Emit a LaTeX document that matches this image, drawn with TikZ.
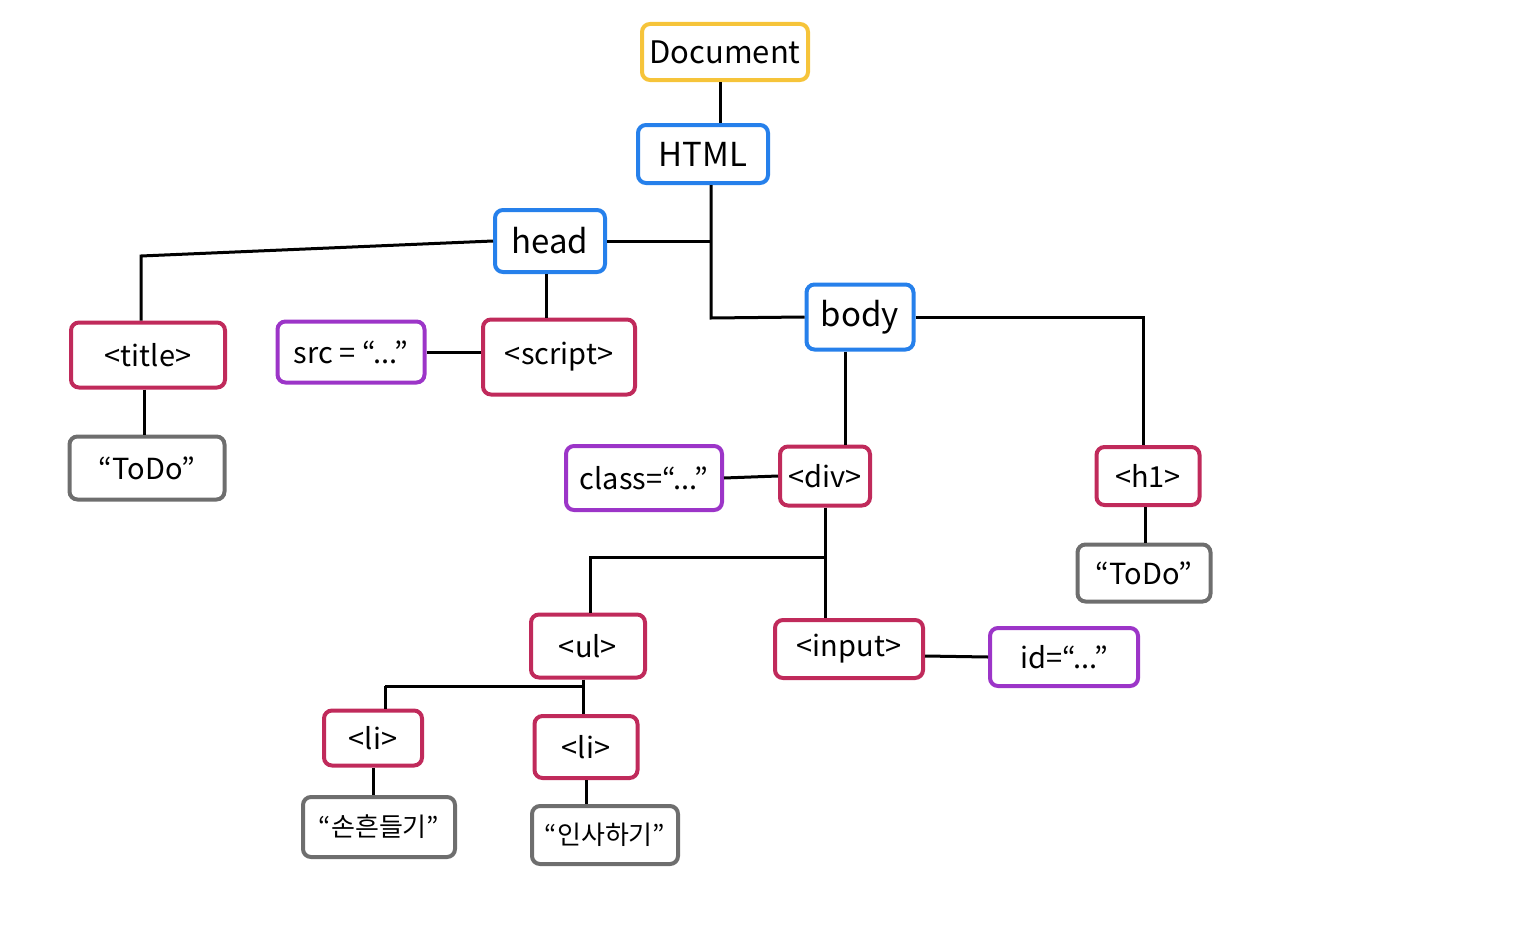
\documentclass[tikz,border=0pt]{standalone}
\usepackage{fontspec}
\setmainfont{Noto Sans CJK KR}
\usetikzlibrary{calc}
\definecolor{docyellow}{HTML}{F6C43A}
\definecolor{elblue}{HTML}{2680EB}
\definecolor{tagred}{HTML}{C02A5B}
\definecolor{attrpurple}{HTML}{9C35C8}
\definecolor{textgray}{HTML}{6E6E6E}
\tikzset{
  box/.style={draw, line width=4pt, rounded corners=8pt, inner sep=0pt,
    font=\fontsize{29}{33}\selectfont},
  boxsize/.style 2 args={minimum width=#1pt, minimum height=#2pt},
  docbox/.style={box, docyellow, text=black, font=\fontsize{31}{35}\selectfont},
  elbox/.style={box, elblue, text=black, font=\fontsize{33}{37}\selectfont},
  tagbox/.style={box, tagred, text=black},
  attrbox/.style={box, attrpurple, text=black},
  txtbox/.style={box, textgray, text=black},
  link/.style={line width=3pt, black}
}
\begin{document}
\begin{tikzpicture}[x=1pt, y=-1pt]

\useasboundingbox (0,0) rectangle (1536,934);

% document and root
\node[docbox, boxsize={166}{56}] (document) at (725,52) {Document};
\node[elbox, boxsize={130}{58}] (html) at (703,154) {HTML};
\node[elbox, boxsize={110}{62}] (head) at (550,241) {head};
\node[elbox, boxsize={107}{65}] (body) at (860,317) {body};

% head side
\node[tagbox, boxsize={154}{65}] (title) at (148,355) {<title>};
\node[txtbox, boxsize={155}{63}] (titletext) at (147,468) {“ToDo”};
\node[attrbox, boxsize={147}{61}] (src) at (351,352) {src = “...”};
\node[tagbox, boxsize={152}{75}] (script) at (559,357) {<script>};

% body side
\node[attrbox, boxsize={156}{64}] (class) at (644,478) {class=“...”};
\node[tagbox, boxsize={90}{59}] (div) at (825,476) {<div>};
\node[tagbox, boxsize={103}{58}] (h1) at (1148,476) {<h1>};
\node[txtbox, boxsize={133}{57}] (h1text) at (1144,573) {“ToDo”};
\node[tagbox, boxsize={114}{63}] (ul) at (588,646) {<ul>};
\node[tagbox, boxsize={148}{58}] (input) at (849,649) {<input>};
\node[attrbox, boxsize={148}{58}] (id) at (1064,657) {id=“...”};
\node[tagbox, boxsize={98}{55}] (lia) at (373,738) {<li>};
\node[tagbox, boxsize={103}{62}] (lib) at (586,747) {<li>};
\node[txtbox, boxsize={152}{60}, font=\fontsize{26}{30}\selectfont] (liatext) at (379,827) {“손흔들기”};
\node[txtbox, boxsize={146}{58}, font=\fontsize{26}{30}\selectfont] (libtext) at (605,835) {“인사하기”};

% junction points
\coordinate (headjoin) at (711,241);
\coordinate (bodyknee) at (711,318);
\coordinate (titleknee) at (141,256);
\coordinate (h1knee) at (1143,317);
\coordinate (ulknee) at (590,557);
\coordinate (lijoin) at (385,686);

% connectors
\draw[link] ([xshift=-5pt]document.south) -- ([xshift=17pt]html.north);
\draw[link] ([xshift=8pt]html.south) -- (bodyknee) -- (body.west);
\draw[link] (head.east) -- (headjoin);
\draw[link] (head.west) -- (titleknee) -- (title.north -| titleknee);
\draw[link] ([xshift=-4pt]head.south) -- ([xshift=-13pt]script.north);
\draw[link] (src.east) -- (script.west |- src.east);
\draw[link] ([xshift=-4pt]title.south) -- ([xshift=-3pt]titletext.north);
\draw[link] ([xshift=-15pt]body.south) coordinate (bodydrop) -- (div.north -| bodydrop);
\draw[link] (body.east) -- (h1knee) -- (h1.north -| h1knee);
\draw[link] ([xshift=-3pt]h1.south) -- ([xshift=1pt]h1text.north);
\draw[link] (class.east) -- (div.west);
\draw[link] (div.south) -- (div.south |- input.north);
\draw[link] (div.south |- ulknee) -- (ulknee) -- (ul.north -| ulknee);
\draw[link] ([yshift=-7pt]input.east) -- (id.west);
\draw[link] (lijoin) -- ([xshift=-5pt]ul.south |- lijoin);
\draw[link] ([xshift=-5pt]ul.south) -- ([xshift=-3pt]lib.north);
\draw[link] (lijoin) -- (lia.north -| lijoin);
\draw[link] (lia.south) -- (liatext.north -| lia.south);
\draw[link] (lib.south) -- (libtext.north -| lib.south);

\end{tikzpicture}
\end{document}
